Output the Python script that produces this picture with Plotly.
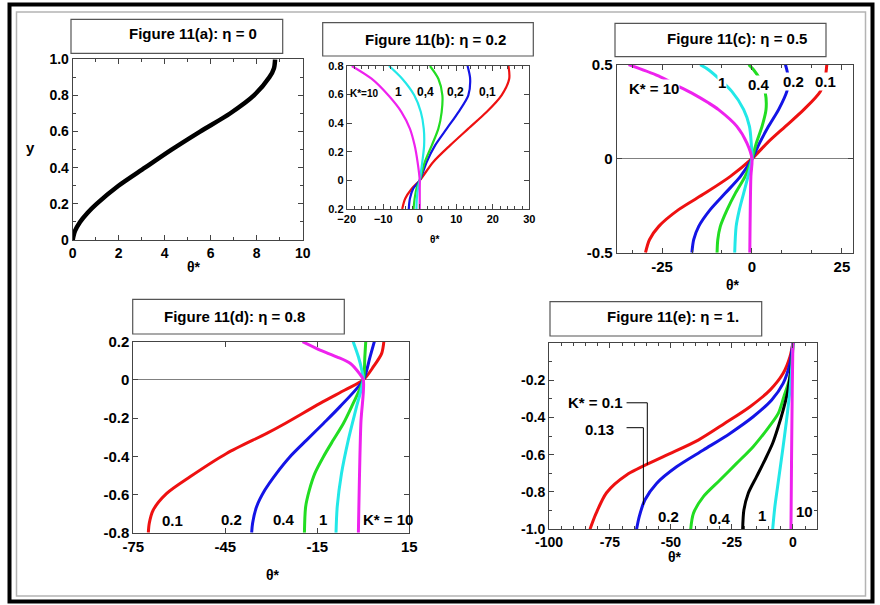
import plotly.graph_objects as go

W, H = 880, 605
FONT = "Liberation Sans, Arial, Helvetica, sans-serif"

RED, BLUE, GREEN, CYAN, MAGENTA, BLACK = "#ee1111", "#1414e6", "#22dd22", "#22e8e8", "#ee22ee", "#000000"

# ---------------- (a) eta = 0 ----------------
a_y = [0.0, 0.02, 0.05, 0.1, 0.15, 0.2, 0.3, 0.4, 0.5, 0.6, 0.7, 0.8, 0.9, 0.95, 1.0]
a_theta = [0.0, 0.03, 0.1, 0.32, 0.64, 1.04, 1.99, 3.14, 4.3, 5.54, 6.84, 7.88, 8.55, 8.75, 8.8]

# ---------------- (b) eta = 0.2 ----------------
b_y = [0.8, 0.711, 0.595, 0.478, 0.362, 0.245, 0.129, 0.0, -0.058, -0.128, -0.2]
b_k01 = [24.3, 24.5, 22.4, 18.3, 13.3, 8.3, 3.7, 0.0, -2.2, -4.0, -4.8]
b_k02 = [13.1, 13.8, 13.3, 10.6, 7.4, 4.2, 1.9, 0.0, -1.8, -2.7, -3.0]
b_k04 = [2.8, 5.1, 6.2, 6.0, 5.1, 3.3, 1.4, 0.0, -0.9, -1.4, -1.7]
b_k1 = [-8.4, -4.8, -1.5, 0.3, 1.1, 1.2, 0.7, 0.0, -0.5, -0.8, -0.9]
b_k10 = [-18.6, -13.2, -8.6, -5.0, -2.7, -1.4, -0.6, 0.0, 0.0, 0.0, 0.0]

# ---------------- (c) eta = 0.5 ----------------
c_y_k01 = [0.5, 0.438, 0.358, 0.261, 0.172, 0.083, 0.0, -0.094, -0.183, -0.271, -0.36, -0.431, -0.5]
c_k01 = [20.8, 20.4, 19.0, 14.4, 9.3, 4.2, 0.0, -6.0, -13.0, -20.4, -25.9, -28.5, -29.6]
c_y_k02 = [0.5, 0.472, 0.415, 0.358, 0.261, 0.172, 0.083, 0.0, -0.094, -0.183, -0.271, -0.36, -0.431, -0.5]
c_k02 = [9.3, 9.7, 10.2, 9.7, 7.4, 4.6, 2.1, 0.0, -3.2, -7.4, -11.6, -14.8, -16.2, -16.7]
c_y_k04 = [0.5, 0.472, 0.42, 0.35, 0.261, 0.172, 0.083, 0.0, -0.094, -0.183, -0.271, -0.36, -0.431, -0.5]
c_k04 = [-0.9, 0.5, 2.3, 3.7, 3.9, 2.8, 1.2, 0.0, -1.9, -4.6, -6.9, -8.8, -9.5, -9.7]
c_y_k1 = [0.5, 0.472, 0.358, 0.261, 0.172, 0.083, 0.0, -0.094, -0.183, -0.271, -0.36, -0.5]
c_k1 = [-14.4, -12.0, -5.6, -2.3, -0.7, -0.2, 0.0, -1.1, -2.3, -3.5, -4.4, -4.8]
c_y_k10 = [0.5, 0.44, 0.385, 0.349, 0.296, 0.261, 0.172, 0.083, 0.0, -0.094, -0.5]
c_k10 = [-34.3, -26.0, -20.4, -16.7, -12.0, -9.3, -4.2, -1.4, 0.0, -0.3, -0.6]

# ---------------- (d) eta = 0.8 ----------------
d_y_k01 = [0.2, 0.139, 0.069, 0.0, -0.053, -0.123, -0.228, -0.28, -0.385, -0.507, -0.594, -0.681, -0.751, -0.8]
d_k01 = [6.7, 6.0, 3.3, 0.0, -6.0, -14.1, -25.5, -31.5, -44.6, -56.5, -64.1, -68.5, -69.8, -70.1]
d_y_k02 = [0.2, 0.121, 0.0, -0.14, -0.228, -0.315, -0.402, -0.489, -0.577, -0.664, -0.751, -0.8]
d_k02 = [3.6, 2.2, 0.0, -7.6, -13.0, -18.5, -23.9, -28.3, -32.1, -34.8, -36.1, -36.4]
d_y_k04 = [0.2, 0.121, 0.0, -0.14, -0.228, -0.315, -0.402, -0.489, -0.577, -0.664, -0.8]
d_k04 = [0.8, 0.5, 0.0, -3.8, -6.5, -9.8, -13.0, -15.8, -17.6, -18.8, -19.2]
d_y_k1 = [0.2, 0.121, 0.052, 0.0, -0.14, -0.315, -0.489, -0.664, -0.8]
d_k1 = [-3.3, -1.6, -0.5, 0.0, -2.2, -4.9, -7.1, -8.5, -8.9]
d_y_k10 = [0.2, 0.156, 0.121, 0.087, 0.034, 0.0, -0.228, -0.8]
d_k10 = [-19.8, -14.1, -8.7, -4.3, -1.3, 0.0, -0.8, -1.6]

# ---------------- (e) eta = 1 ----------------
e_y_k01 = [-1.0, -0.915, -0.804, -0.709, -0.611, -0.522, -0.432, -0.343, -0.254, -0.164, -0.075, 0.0]
e_k01 = [-83.2, -80.7, -76.4, -68.2, -53.1, -38.8, -27.9, -17.6, -9.4, -4.0, -1.2, 0.0]
e_y_k013 = [-1.0, -0.932, -0.843, -0.754, -0.665, -0.575, -0.486, -0.397, -0.307, -0.218, -0.111, -0.039, 0.0]
e_k013 = [-64.1, -63.0, -60.7, -55.9, -47.7, -36.7, -25.8, -16.3, -8.7, -4.0, -1.2, -0.4, 0.0]
e_y_k02 = [-1.0, -0.915, -0.825, -0.736, -0.647, -0.557, -0.468, -0.379, -0.289, -0.2, -0.111, 0.0]
e_k02 = [-41.9, -40.8, -36.7, -29.9, -23.1, -16.3, -10.8, -6.0, -3.7, -1.5, -0.4, 0.0]
e_y_k04 = [-1.0, -0.897, -0.807, -0.718, -0.629, -0.539, -0.45, -0.361, -0.272, -0.182, -0.093, 0.0]
e_k04 = [-20.6, -20.1, -18.3, -14.9, -11.5, -8.3, -6.0, -4.0, -2.3, -1.2, -0.4, 0.0]
e_y_k1 = [-1.0, -0.879, -0.736, -0.575, -0.414, -0.254, -0.111, 0.0]
e_k1 = [-8.3, -7.4, -5.9, -4.2, -2.6, -1.2, -0.4, 0.0]
e_y_k10 = [-1.0, -0.611, -0.254, 0.0]
e_k10 = [-0.8, -0.55, -0.27, 0.0]


def px(X):
    return X / W


def py(Y):
    return 1 - Y / H


fig = go.Figure()


def curve(x, y, color, width, ax):
    fig.add_trace(go.Scatter(
        x=x, y=y, mode="lines", xaxis="x" + ax, yaxis="y" + ax,
        line=dict(color=color, width=width, shape="spline", smoothing=0.8),
        showlegend=False, hoverinfo="skip"))


curve(a_theta, a_y, BLACK, 4.5, "")
for vals, col in [(b_k01, RED), (b_k02, BLUE), (b_k04, GREEN), (b_k1, CYAN), (b_k10, MAGENTA)]:
    curve(vals, b_y, col, 2.2, "2")
for vals, yy, col in [(c_k01, c_y_k01, RED), (c_k02, c_y_k02, BLUE), (c_k04, c_y_k04, GREEN),
                      (c_k1, c_y_k1, CYAN), (c_k10, c_y_k10, MAGENTA)]:
    curve(vals, yy, col, 3, "3")
for vals, yy, col in [(d_k01, d_y_k01, RED), (d_k02, d_y_k02, BLUE), (d_k04, d_y_k04, GREEN),
                      (d_k1, d_y_k1, CYAN), (d_k10, d_y_k10, MAGENTA)]:
    curve(vals, yy, col, 3, "4")
for vals, yy, col in [(e_k01, e_y_k01, RED), (e_k013, e_y_k013, BLUE), (e_k02, e_y_k02, GREEN),
                      (e_k04, e_y_k04, BLACK), (e_k1, e_y_k1, CYAN), (e_k10, e_y_k10, MAGENTA)]:
    curve(vals, yy, col, 3, "5")

AX = "#444444"


def axis(dom, rng, anchor, size, tickvals=None, ticktext=None, dtick=None, minor=None, zero=False):
    d = dict(
        domain=dom, range=rng, anchor=anchor, showgrid=False, zeroline=zero,
        zerolinecolor="#808080", zerolinewidth=1, automargin=False,
        showline=True, linecolor=AX, linewidth=1, mirror="ticks",
        ticks="inside", ticklen=5, tickcolor=AX, tickwidth=1,
        tickfont=dict(family=FONT, size=size, color="black", weight="bold"),
        fixedrange=True,
    )
    if tickvals is not None:
        d["tickmode"] = "array"
        d["tickvals"] = tickvals
        d["ticktext"] = ticktext if ticktext is not None else [str(v) for v in tickvals]
    if dtick is not None:
        d["tick0"] = 0
        d["dtick"] = dtick
    if minor is not None:
        d["minor"] = dict(ticks="inside", ticklen=3, tickcolor=AX, dtick=minor, tick0=0)
    return d


layout_axes = dict(
    xaxis=axis([px(72.7), px(302.7)], [0, 10], "y", 14, dtick=2, minor=1),
    yaxis=axis([py(240), py(59.3)], [0, 1], "x", 14,
               tickvals=[0, 0.2, 0.4, 0.6, 0.8, 1.0], ticktext=["0", "0.2", "0.4", "0.6", "0.8", "1.0"], minor=0.1),
    xaxis2=axis([px(346.7), px(529.3)], [-20, 30], "y2", 11, dtick=10, minor=2),
    yaxis2=axis([py(209), py(66)], [-0.2, 0.8], "x2", 11,
                tickvals=[-0.2, 0, 0.2, 0.4, 0.6, 0.8], ticktext=["0.2", "0", "0.2", "0.4", "0.6", "0.8"]),
    xaxis3=axis([px(616.7), px(852.7)], [-37.6, 28.0], "y3", 15,
                tickvals=[-25, 0, 25], minor=25 / 3),
    yaxis3=axis([py(252.7), py(64.7)], [-0.5, 0.5], "x3", 15,
                tickvals=[-0.5, 0, 0.5], ticktext=["-0.5", "0", "0.5"], zero=True),
    xaxis4=axis([px(133.3), px(409.3)], [-75, 15], "y4", 15, tickvals=[-75, -45, -15, 15]),
    yaxis4=axis([py(532.7), py(341.7)], [-0.8, 0.2], "x4", 15,
                tickvals=[-0.8, -0.6, -0.4, -0.2, 0, 0.2],
                ticktext=["-0.8", "-0.6", "-0.4", "-0.2", "0", "0.2"], zero=True),
    xaxis5=axis([px(549), px(817.3)], [-100, 10], "y5", 14,
                tickvals=[-100, -75, -50, -25, 0], minor=5),
    yaxis5=axis([py(529.3), py(342.7)], [-1.0, 0.0], "x5", 14,
                tickvals=[-1.0, -0.8, -0.6, -0.4, -0.2], ticktext=["-1.0", "-0.8", "-0.6", "-0.4", "-0.2"], minor=0.1),
)

shapes = []
# outer frame
shapes.append(dict(type="rect", xref="paper", yref="paper", x0=px(9.5), x1=px(872.5), y0=py(601.5), y1=py(4.5),
                   line=dict(color="black", width=4)))
shapes.append(dict(type="rect", xref="paper", yref="paper", x0=px(16.5), x1=px(865.5), y0=py(596), y1=py(12),
                   line=dict(color="#b4b4b4", width=1.5)))
# title boxes
for x0, x1, y0, y1 in [(71, 282.7, 19.3, 53.3), (322.7, 533.3, 22.7, 56), (615, 826, 23.3, 56.7),
                       (132.7, 344.3, 299.3, 334), (550, 761.7, 301.7, 336)]:
    shapes.append(dict(type="rect", xref="paper", yref="paper", x0=px(x0), x1=px(x1), y0=py(y1), y1=py(y0),
                       line=dict(color="#555555", width=1.2)))
# leader lines for the K* = 0.1 and 0.13 labels in (e)
shapes.append(dict(type="path", xref="x5", yref="y5", path="M -68.2,-0.322 L -59.7,-0.322 L -59.7,-0.654",
                   line=dict(color="black", width=1)))
shapes.append(dict(type="path", xref="x5", yref="y5", path="M -68.2,-0.4555 L -61.3,-0.4555 L -61.3,-0.87",
                   line=dict(color="black", width=1)))

annotations = []


def text(X, Y, s, size, bg=None):
    a = dict(xref="paper", yref="paper", x=px(X), y=py(Y), text=s, showarrow=False,
             xanchor="center", yanchor="middle",
             font=dict(family=FONT, size=size, color="black", weight="bold"))
    if bg:
        a["bgcolor"] = bg
        a["borderpad"] = 0
    annotations.append(a)


# panel titles
text(192.5, 33.5, "Figure 11(a): η = 0", 15)
text(435, 39, "Figure 11(b): η = 0.2", 15)
text(737, 38.8, "Figure 11(c): η = 0.5", 15)
text(234.7, 316, "Figure 11(d): η = 0.8", 15)
text(673, 316, "Figure 11(e): η = 1.", 15)

# axis titles
text(31, 147, "y", 15)
text(194, 267, "θ*", 14)
text(434, 239, "θ*", 10)
text(733.3, 285, "θ*", 14)
text(272.7, 575, "θ*", 14)
text(675, 556.7, "θ*", 14)

# curve labels (b)
text(364, 93, "K*=10", 10)
text(398, 92, "1", 12)
text(425.8, 92, "0,4", 12)
text(455.8, 92, "0,2", 12)
text(487, 92, "0,1", 12)

# curve labels (c)
text(653.7, 88.5, "K* = 10", 15, bg="white")
text(722, 82.5, "1", 15, bg="white")
text(758.7, 85, "0.4", 15, bg="white")
text(793, 81.7, "0.2", 15, bg="white")
text(825, 81.7, "0.1", 15, bg="white")

# curve labels (d)
text(172.5, 520, "0.1", 15)
text(232, 519.5, "0.2", 15)
text(284, 519, "0.4", 15)
text(323.3, 519, "1", 15)
text(388.3, 519, "K* = 10", 15)

# curve labels (e)
text(595, 402.7, "K* = 0.1", 15)
text(599.5, 429.3, "0.13", 15)
text(668.8, 516.7, "0.2", 15)
text(719.7, 518.3, "0.4", 15)
text(762, 515, "1", 15)
text(804, 511.7, "10", 15)

fig.update_layout(
    width=W, height=H, margin=dict(l=0, r=0, t=0, b=0),
    paper_bgcolor="white", plot_bgcolor="white",
    showlegend=False, shapes=shapes, annotations=annotations,
    **layout_axes,
)

fig.write_html("out.html")
